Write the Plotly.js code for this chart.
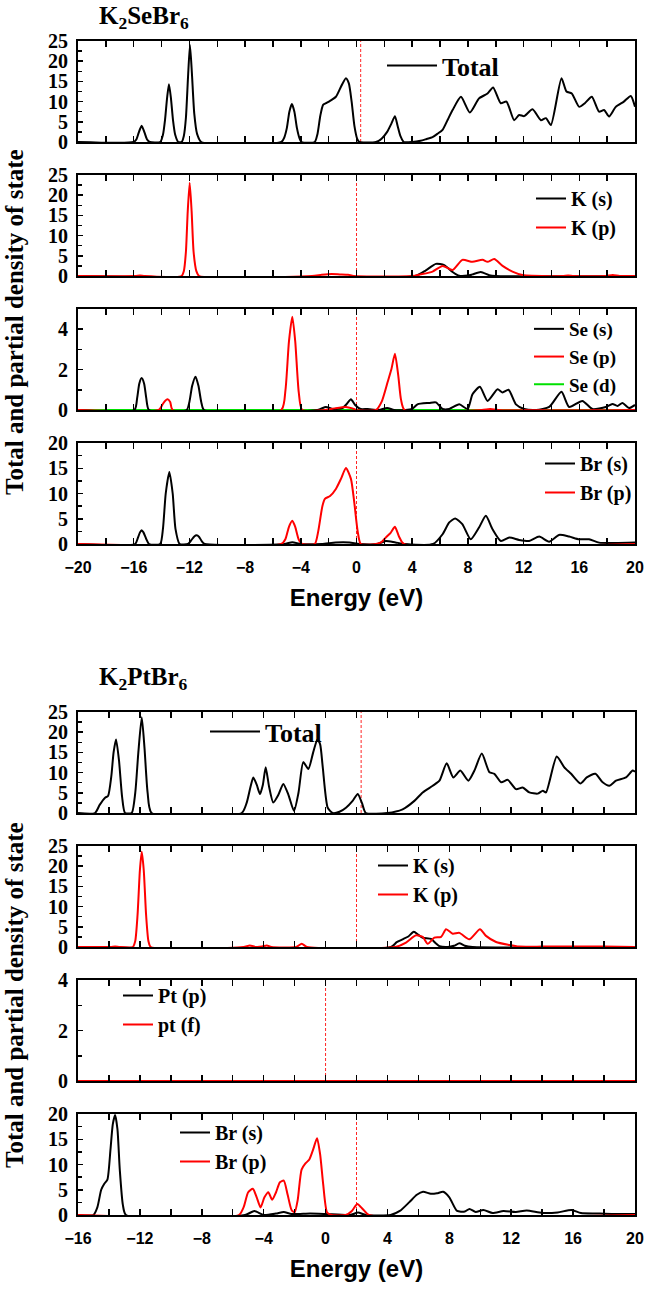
<!DOCTYPE html>
<html>
<head>
<meta charset="utf-8">
<script src="https://cdn.plot.ly/plotly-3.0.1.min.js"></script>
<style>html,body{margin:0;padding:0;background:#fff;}#chart{width:646px;height:1291px;}</style>
</head>
<body>
<div id="chart"></div>
<script>
// ---------------- DATA : K2SeBr6 ----------------
const seTotE = [-20,-16.0,-15.8,-15.65,-15.43,-15.22,-15.05,-14.85,-14.1,-13.9,-13.75,-13.6,-13.47,-13.33,-13.18,-13.02,-12.8,-12.56,-12.4,-12.25,-12.1,-11.96,-11.82,-11.65,-11.45,-11.15,-5.4,-5.2,-5.0,-4.82,-4.64,-4.46,-4.28,-4.1,-3.94,-3.0,-2.8,-2.6,-2.4,-2.2,-1.9,-1.48,-1.1,-0.76,-0.55,-0.35,-0.15,0.05,0.2,1.4,1.8,2.2,2.5,2.76,2.95,3.15,3.4,4.0,4.6,5.0,5.46,5.8,6.18,6.55,6.9,7.5,8.14,8.8,9.41,9.81,10.36,10.77,11.32,11.68,12.04,12.64,13.24,13.6,13.96,14.72,15.08,15.46,15.99,16.4,16.9,17.42,17.78,18.14,18.62,19.2,19.7,20];
const seTotD = [0,0,0.7,2.2,4,2.3,0.7,0,0,1.8,5.5,11,14.3,11,5.5,1.8,0,0,1.5,6,16,24,17,7,2,0,0,1,3.5,7.5,9.4,7.5,3.5,1,0,0,2,6.5,9.2,9.6,10.2,11.2,13.8,15.8,14.5,10,4,0.8,0,0,0.8,2.5,4.5,6.4,4,1.5,0,0,0.3,0.7,1.2,2,3,5.5,7.9,11.2,7.3,10.8,12,13.5,9.6,10,5.4,6.7,6.4,8.1,5.4,5.9,4.2,15.8,12.5,12,8.7,9.6,11.2,7.5,7.9,6.3,8.7,10,11.4,8.7];

const seKsE = [-20,4.2,4.98,5.7,6.3,6.9,7.37,8.0,8.33,8.93,9.53,10.0,20];
const seKsD = [0,0,1.4,3.0,2.7,1.0,0.05,0.1,0.4,1.0,0.2,0,0];
const seKpE = [-20,-15.9,-15.55,-15.2,-12.56,-12.4,-12.25,-12.12,-11.98,-11.84,-11.7,-11.5,-11.3,-3.2,-2.5,-1.8,-1.2,-0.6,-0.2,4.0,4.6,5.46,6.18,6.9,7.6,8.33,9.05,9.41,9.89,10.49,11.2,11.92,12.6,14.8,15.2,15.6,17.9,18.4,18.9,20];
const seKpD = [0,0,0.15,0,0,1.2,6,16,23.1,16,6,1.2,0,0,0.3,0.5,0.4,0.3,0,0,0.4,1.1,2.5,1.5,4,3.5,4,3.5,4.2,2.5,1.1,0.25,0.05,0,0.15,0,0,0.25,0,0];

const seSesE = [-20,-15.95,-15.75,-15.6,-15.43,-15.25,-15.1,-14.9,-12.2,-12.0,-11.8,-11.56,-11.35,-11.15,-10.95,-2.8,-2.2,-1.7,-1.0,-0.7,-0.4,-0.1,0.3,0.8,1.6,2.2,2.7,3.5,4.0,4.38,5.22,5.7,6.18,6.66,7.38,7.98,8.33,8.86,9.41,10.13,10.49,10.92,11.45,12.04,12.9,13.84,14.72,15.27,16.22,16.94,17.9,18.38,18.74,19.1,19.57,20];
const seSesD = [0,0,0.6,1.3,1.58,1.3,0.6,0,0,0.4,1.2,1.65,1.2,0.4,0,0,0.15,0.05,0.1,0.3,0.53,0.25,0.05,0.05,0,0.1,0,0,0.05,0.28,0.35,0.38,0.05,0.05,0.28,0.05,0.78,1.15,0.45,1.03,0.87,1.0,0.28,0.05,0,0.15,0.9,0.15,0.45,0.05,0.15,0.3,0.2,0.35,0.1,0.25];
const seSepE = [-20,-14.2,-13.95,-13.75,-13.56,-13.38,-13.2,-5.4,-5.1,-4.85,-4.61,-4.4,-4.15,-3.9,-2.3,-1.6,-0.76,-0.3,0.0,1.4,1.8,2.23,2.5,2.76,3.0,3.2,3.45,9.0,9.6,10.2,20];
const seSepD = [0,0,0.25,0.45,0.53,0.4,0,0,1.0,3.4,4.62,3.4,0.9,0,0,0.08,0.15,0.08,0,0,0.4,1.37,2.0,2.78,1.7,0.5,0,0,0.05,0,0];
const seSedE = [-20,0,20];
const seSedD = [0,0,0];

const seBrsE = [-20,-15.9,-15.7,-15.55,-15.43,-15.3,-15.1,-14.9,-14.1,-13.9,-13.7,-13.44,-13.2,-13.0,-12.7,-12.1,-11.85,-11.65,-11.48,-11.3,-11.1,-10.9,-5.2,-4.61,-4.0,-2.5,-1.5,-0.5,0.2,1.5,2.1,2.8,3.5,5.5,6.18,6.66,7.09,7.6,8.2,8.8,9.29,9.77,10.37,10.97,11.68,12.4,13.12,13.83,14.55,15.27,15.99,16.7,17.42,18.6,20];
const seBrsD = [0,0,1.2,2.3,2.73,2.3,1.0,0,0,3,10,14.27,10,3,0,0,0.8,1.5,1.73,1.4,0.5,0,0,0.35,0,0,0.3,0.3,0,0,0.6,0.3,0,0,1.93,4.27,5.07,3.93,0.93,3.27,5.6,2.93,0.6,1.27,0.8,0.6,1.47,0.47,1.8,1.47,0.93,0.93,0.27,0.2,0.3];
const seBrpE = [-20,-5.4,-5.1,-4.85,-4.61,-4.4,-4.15,-3.9,-3.0,-2.75,-2.45,-2.27,-1.9,-1.48,-1.1,-0.76,-0.4,-0.15,0.08,0.31,1.4,1.8,2.1,2.45,2.76,3.05,3.4,20];
const seBrpD = [0,0,1.0,3.4,4.6,3.4,0.9,0,0,2.5,7.5,8.93,9.5,10.9,13,15.07,12.9,8,2.6,0,0,0.4,1.27,2.2,3.4,1.5,0,0];

// ---------------- DATA : K2PtBr6 ----------------
const ptTotE = [-16,-14.9,-14.6,-14.25,-14.06,-13.85,-13.7,-13.54,-13.35,-13.15,-12.96,-12.53,-12.3,-12.1,-11.88,-11.7,-11.5,-11.24,-5.42,-5.1,-4.85,-4.67,-4.45,-4.24,-4.05,-3.87,-3.65,-3.38,-3.05,-2.73,-2.4,-2.04,-1.75,-1.44,-1.11,-0.8,-0.53,-0.35,-0.18,0.14,0.46,0.9,1.32,1.75,2.08,2.35,2.6,4.0,4.98,5.74,6.28,6.93,7.36,7.83,8.26,8.71,9.23,9.62,10.1,10.59,10.91,11.35,11.78,12.31,12.74,13.17,13.71,14.04,14.25,14.94,15.43,15.87,16.47,16.88,17.44,17.91,18.34,18.77,19.42,19.85,20];
const ptTotD = [0,0,2.0,3.8,4.2,9,15,18.2,13,4,0,0,5,15,23.7,16,5,0,0,2.5,6.5,8.8,7,4.7,7,11.3,6.5,2.6,4.5,7.2,4.5,0.5,5,12.6,10.9,15,18.2,17,11.3,1.3,0,0.3,1.3,3.0,4.7,2.5,0,0,0.9,3,5.1,6.75,8,12.3,8.8,10.5,8,10.5,14.7,10.1,9.7,7.6,8.2,5.9,6.3,5.1,4.8,5.5,5.1,14,11.3,9.7,7.3,8.8,9.7,7.6,6.75,8,8.8,10.5,10.2];

const ptKsE = [-16,4.23,4.6,4.98,5.35,5.7,6.0,6.28,6.82,7.1,7.36,7.9,8.3,8.65,9.0,9.5,20];
const ptKsD = [0,0,1.2,1.9,2.6,3.75,3.0,2.3,2.0,1.0,0.2,0,0.3,0.9,0.3,0,0];
const ptKpE = [-16,-13.9,-13.6,-13.3,-12.46,-12.3,-12.15,-12.0,-11.88,-11.75,-11.6,-11.45,-11.3,-5.3,-4.9,-4.5,-4.1,-3.8,-3.5,-1.9,-1.54,-1.2,4.5,5.2,5.85,6.28,6.6,7.03,7.47,7.79,8.22,8.65,9.29,9.98,10.37,11.02,11.88,12.5,14.0,16.0,18.0,20];
const ptKpD = [0,0,0.15,0,0,1.5,8,19,23.6,19,8,1.5,0,0,0.4,0,0.1,0.4,0,0,0.8,0,0,1.1,2.9,2.5,0.8,2.3,2.5,4.4,3.3,3.5,1.9,4.4,2.75,1.25,0.5,0.1,0.1,0.15,0.1,0];

const ptPtpE = [-16,20];
const ptPtpD = [0,0];
const ptPtfE = [-16,20];
const ptPtfD = [0,0];

const ptBrsE = [-16,-15.0,-14.75,-14.5,-14.3,-14.1,-13.9,-13.75,-13.6,-13.45,-13.3,-13.1,-12.9,-5.2,-4.6,-4.0,-3.2,-2.7,-2.2,-1.0,0.0,1.6,2.1,2.6,4.2,4.8,5.4,5.9,6.3,6.8,7.2,7.6,8.0,8.5,9.0,9.3,9.7,10.2,10.8,11.5,12.3,13.0,14.0,15.0,15.9,16.5,17.5,18.5,20];
const ptBrsD = [0,0,1.5,5.0,6.2,7,13,18,19.8,17,9,2,0,0,0.8,0,0.3,0.6,0.2,0.3,0.2,0,0.5,0,0,0.8,2.5,4,4.6,4.2,4.3,4.6,3.5,0.8,0.7,1.2,0.6,1.0,0.4,0.8,0.6,0.9,0.4,0.5,1.0,0.4,0.3,0.2,0.2];
const ptBrpE = [-16,-5.6,-5.3,-5.0,-4.7,-4.45,-4.2,-3.95,-3.7,-3.45,-3.2,-2.95,-2.7,-2.45,-2.2,-2.0,-1.8,-1.55,-1.3,-1.05,-0.8,-0.55,-0.35,-0.15,0.1,0.4,1.3,1.7,2.05,2.4,2.8,20];
const ptBrpD = [0,0,1.5,4.5,5.2,3.5,1.5,3.5,4.5,3,4.5,6.5,6.8,4,1.0,0.5,3,9,10.2,11,13,15.2,12,6,0.5,0,0,0.8,2.2,1.2,0,0];

// Fermi-level dashed markers (eV) per panel
const fermiLevels = [0.3, 0.0, 0.0, 0.0, 2.3, 2.0, 0.0, 2.0];
// y ranges and tick steps per panel
const yMax = [25, 25, 5, 20, 25, 25, 4, 20];
const yStep = [5, 5, 2, 5, 5, 5, 2, 5];
const titles = ['K<sub>2</sub>SeBr<sub>6</sub>', 'K<sub>2</sub>PtBr<sub>6</sub>'];
const yTitle = 'Total and partial density of state';
const xTitle = 'Energy (eV)';

// ---------------- LAYOUT ----------------
const W = 646, H = 1291;
const BLACK = '#000000', RED = '#ff0000', GREEN = '#00e000';
const serif = 'Liberation Serif, Times New Roman, serif';
const sans = 'Liberation Sans, Arial, sans-serif';
const panelTop = [41, 175, 309, 443, 712, 846, 980, 1114];
const panelH = 101;
const xL = 78, xR = 635;

const series = [
  {x: seTotE, y: seTotD, name: 'Total', c: BLACK, p: 1},
  {x: seKsE, y: seKsD, name: 'K (s)', c: BLACK, p: 2},
  {x: seKpE, y: seKpD, name: 'K (p)', c: RED, p: 2},
  {x: seSedE, y: seSedD, name: 'Se (d)', c: GREEN, p: 3},
  {x: seSesE, y: seSesD, name: 'Se (s)', c: BLACK, p: 3},
  {x: seSepE, y: seSepD, name: 'Se (p)', c: RED, p: 3},
  {x: seBrsE, y: seBrsD, name: 'Br (s)', c: BLACK, p: 4},
  {x: seBrpE, y: seBrpD, name: 'Br (p)', c: RED, p: 4},
  {x: ptTotE, y: ptTotD, name: 'Total', c: BLACK, p: 5},
  {x: ptKsE, y: ptKsD, name: 'K (s)', c: BLACK, p: 6},
  {x: ptKpE, y: ptKpD, name: 'K (p)', c: RED, p: 6},
  {x: ptPtpE, y: ptPtpD, name: 'Pt (p)', c: BLACK, p: 7},
  {x: ptPtfE, y: ptPtfD, name: 'pt (f)', c: RED, p: 7},
  {x: ptBrsE, y: ptBrsD, name: 'Br (s)', c: BLACK, p: 8},
  {x: ptBrpE, y: ptBrpD, name: 'Br (p)', c: RED, p: 8}
];
const legendOrder = {'Se (s)': 1, 'Se (p)': 2, 'Se (d)': 3};

const traces = series.map(s => ({
  type: 'scatter', mode: 'lines', x: s.x, y: s.y, name: s.name,
  xaxis: 'x' + s.p, yaxis: 'y' + s.p,
  legend: s.p === 1 ? 'legend' : 'legend' + s.p,
  legendrank: legendOrder[s.name] || 1000,
  showlegend: true,
  line: {color: s.c, width: 2, shape: 'spline', smoothing: 0.6},
  hoverinfo: 'skip'
}));

// legend placement [left px, top px, font size, item width]
const legendPos = [[382, 42, 26, 50], [531, 179, 20, 30], [529, 310, 19, 30], [540, 444, 20, 30],
                   [205, 708, 26, 50], [373, 846, 20, 30], [118, 976, 20, 30], [175, 1113, 20, 30]];

const layout = {
  width: W, height: H,
  margin: {l: 0, r: 0, t: 0, b: 0},
  paper_bgcolor: '#fff', plot_bgcolor: '#fff',
  font: {family: serif, color: BLACK},
  showlegend: true,
  shapes: [], annotations: []
};

for (let i = 1; i <= 8; i++) {
  const top = panelTop[i - 1];
  const bot = top + panelH;
  const isTopFig = i <= 4;
  const showX = (i === 4 || i === 8);
  const xa = {
    domain: [xL / W, xR / W], anchor: 'y' + i,
    range: isTopFig ? [-20, 20] : [-16, 20],
    dtick: 4, tick0: 0, ticks: 'inside', ticklen: 6, tickwidth: 1.5, tickcolor: BLACK,
    minor: {dtick: 2, tick0: 0, ticks: 'inside', ticklen: 6, tickwidth: 1.5, tickcolor: BLACK},
    showline: true, linewidth: 2, linecolor: BLACK, mirror: 'ticks',
    showgrid: false, zeroline: false,
    showticklabels: showX, ticklabelstandoff: 8,
    tickfont: {family: sans, size: 16, weight: 'bold', color: BLACK},
    automargin: false, fixedrange: true
  };
  if (showX) xa.title = {text: xTitle, standoff: 14, font: {family: sans, size: 24, weight: 'bold', color: BLACK}};
  layout['xaxis' + i] = xa;
  const ym = yMax[i - 1], ys = yStep[i - 1];
  layout['yaxis' + i] = {
    domain: [1 - bot / H, 1 - top / H], anchor: 'x' + i,
    range: [0, ym], dtick: ys, tick0: 0,
    ticks: 'inside', ticklen: 5, tickwidth: 1.5, tickcolor: BLACK,
    minor: {dtick: ys / 2, tick0: 0, ticks: 'inside', ticklen: 4, tickwidth: 1.5, tickcolor: BLACK},
    showline: true, linewidth: 2, linecolor: BLACK, mirror: true,
    showgrid: false, zeroline: false, ticklabelstandoff: 4,
    tickfont: {family: serif, size: 20, weight: 'bold', color: BLACK},
    automargin: false, fixedrange: true
  };
  layout.shapes.push({
    type: 'line', xref: 'x' + i, yref: 'y' + i + ' domain',
    x0: fermiLevels[i - 1], x1: fermiLevels[i - 1], y0: 0, y1: 1,
    line: {color: RED, width: 1, dash: '3px,2px'}, opacity: 0.85, layer: 'below'
  });
  const lp = legendPos[i - 1];
  layout[i === 1 ? 'legend' : 'legend' + i] = {
    visible: true,
    x: lp[0] / W, y: 1 - lp[1] / H, xanchor: 'left', yanchor: 'top',
    xref: 'paper', yref: 'paper',
    bgcolor: 'rgba(0,0,0,0)', borderwidth: 0, itemwidth: lp[3],
    font: {family: serif, size: lp[2], weight: 'bold', color: BLACK},
    tracegroupgap: 0, traceorder: 'normal'
  };
}

// figure titles
[[17, 0], [678, 1]].forEach(([yc, k]) => {
  layout.annotations.push({
    text: titles[k], xref: 'paper', yref: 'paper',
    x: 97 / W, y: 1 - yc / H, xanchor: 'left', yanchor: 'middle', showarrow: false,
    font: {family: serif, size: 25, weight: 'bold', color: BLACK}
  });
});
// shared vertical axis titles
[322, 995].forEach(yc => {
  layout.annotations.push({
    text: yTitle, xref: 'paper', yref: 'paper', textangle: -90,
    x: 14 / W, y: 1 - yc / H, xanchor: 'center', yanchor: 'middle', showarrow: false,
    font: {family: serif, size: 25, weight: 'bold', color: BLACK}
  });
});

Plotly.newPlot('chart', traces, layout, {staticPlot: true, displayModeBar: false});
</script>
</body>
</html>
